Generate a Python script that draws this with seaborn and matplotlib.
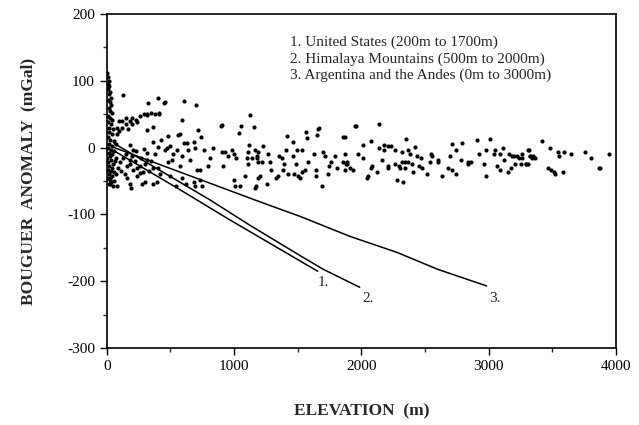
import numpy as np
import pandas as pd
import seaborn as sns
import matplotlib
matplotlib.use("Agg")
import matplotlib.pyplot as plt
from matplotlib.ticker import MultipleLocator

# scatter: elevation (m) and Bouguer anomaly (mGal)
# dense cluster near sea level
elev_low = [5, 10, 15, 8, 20, 12, 25, 18, 30, 10, 22, 35, 15, 28, 40, 12, 25, 45, 8, 32,
            20, 50, 15, 38, 10, 28, 55, 18, 40, 8, 30, 60, 15, 45, 25, 5, 35, 65, 12, 50,
            20, 40, 8, 30, 55, 18, 42, 10, 28, 60, 35, 15, 48, 25, 70, 75, 70, 80, 85, 24]
anom_low = [112, 105, 100, 95, 92, 88, 84, 80, 75, 72, 68, 64, 60, 55, 52, 48, 45, 42, 38, 35,
            30, 28, 24, 20, 16, 12, 10, 6, 3, 0, -3, -5, -8, -10, -13, -16, -18, -20, -22, -25,
            -27, -30, -33, -35, -37, -40, -43, -46, -48, -50, -52, -55, -57, -45, -40, -15, 5, 30, -30, -54]

# arm rising from the origin and scattered points up to ~1200 m
elev_mid = [80, 100, 120, 150, 180, 200, 230, 260, 290, 320, 350, 380, 410, 150, 120, 200, 170, 100, 240,
            126, 322, 401, 448, 314, 408, 314, 361, 361, 424, 401, 471, 181, 204,
            102, 157, 204, 259, 181, 314, 361, 283, 236, 79, 181, 188, 275, 298, 361, 393,
            150, 180, 220, 240, 270, 300, 330, 350, 380, 400, 420, 200, 260, 230, 290, 320, 140, 160, 110, 130,
            456, 605, 699, 589, 715, 558, 738, 903, 1053, 1123, 1155, 1037,
            495, 605, 628, 683, 691, 636, 550, 456, 762, 833, 903, 927, 982, 998, 1013, 950,
            1115, 1108, 1163, 1139, 1178, 1186, 1100, 518, 511, 589, 652, 479, 573, 809, 793, 911, 1108,
            707, 731, 495, 589, 621, 683, 691, 746, 731, 542, 998, 1005, 1045, 1084, 1170, 479, 573, 895]
anom_mid = [20, 25, 30, 35, 40, 45, 42, 48, 50, 50, 52, 50, 51, 45, 40, 35, 28, 40, 38,
            79, 67, 75, 67, 49, 52, 27, 31, 9, 12, 1, 0, 4, -3,
            -22, -28, -33, -28, -18, -18, -30, -37, -43, -58, -55, -60, -55, -52, -54, -51,
            -10, -25, -20, -30, -15, -25, -35, -20, -10, -30, -40, -12, -38, -5, -2, -8, -40, -45, -35, -15,
            69, 70, 64, 42, 27, 19, 16, 34, 33, 49, 31, 22,
            3, 7, 7, 9, 0, -3, -4, -4, -4, 0, -6, -7, -4, -9, -16, -13,
            4, -6, -4, -16, -16, -21, -16, -10, -18, -13, -19, -21, -27, -16, -28, -27, -25,
            -34, -33, -43, -46, -54, -52, -57, -58, -48, -58, -48, -57, -58, -43, -58, 18, 21, 33]

# 1200 m to 4000 m
elev_high = [1414, 1461, 1563, 1571, 1650, 1665, 1854, 1225, 1186, 1178, 1218, 1265, 1280, 1351, 1375, 1406,
             1390, 1382, 1461, 1492, 1532, 1485, 1469, 1500, 1516, 1532, 1555, 1579, 1626, 1697, 1712, 1642,
             1642, 1689, 1744, 1760, 1791, 1736, 1807, 1854, 1877, 1870, 1288, 1327, 1186, 1202, 1257, 1163,
             1343, 1422, 1657,
             1956, 2137, 1870, 2074, 2011, 2176, 2207, 2231, 2349, 2419, 2137, 2176, 2262, 2317, 2364, 2380,
             1972, 1870, 1885, 1885, 2011, 2160, 2207, 2207, 2262, 2294, 2317, 2341, 2364, 2396, 2301, 2341,
             2435, 2466, 2451, 2474, 2545, 2553, 2600, 2537, 2404, 2514, 1909, 1932, 2082, 2074, 2121, 2050,
             2042, 2278, 2325, 1948,
             2710, 2789, 2906, 3008, 2741, 2600, 2694, 2781, 2836, 2859, 2836, 2922, 2977, 3048, 3040, 3087,
             3111, 3118, 3158, 3181, 3197, 3220, 3236, 3260, 3260, 3307, 3323, 3205, 3252, 3291, 2961, 3063,
             3174, 3150, 3087, 2679, 2710, 2741, 2631, 2977,
             3417, 3480, 3315, 3543, 3550, 3590, 3645, 3755, 3802, 3943, 3323, 3346, 3362, 3338, 3307, 3291,
             3464, 3488, 3511, 3519, 3582, 3865, 3873]
anom_high = [18, 9, 24, 15, 19, 30, 16, 3, -6, -13, -21, -9, -21, -13, -16, -4,
             -25, -33, -13, -4, -3, -25, -39, -43, -46, -37, -33, -21, -9, -7, -13, -33,
             -43, -57, -28, -21, -13, -40, -31, -21, -25, -33, -34, -45, -46, -43, -55, -60,
             -43, -40, 28,
             33, 36, 16, 10, 4, 4, 3, 3, 13, 1, -1, -3, -3, -7, -4, -9,
             -9, -10, -21, -25, -16, -18, -27, -30, -24, -27, -22, -22, -21, -24, -30, -30,
             -12, -16, -27, -30, -9, -12, -21, -22, -36, -40, -31, -34, -27, -31, -36, -43,
             -46, -48, -51, 33,
             6, 7, 12, 13, -3, -19, -13, -19, -22, -21, -25, -9, -4, -4, -10, -9,
             -1, -19, -10, -12, -13, -13, -15, -16, -10, -4, -13, -24, -25, -25, -24, -27,
             -31, -37, -34, -31, -33, -39, -43, -43,
             10, -1, -4, -7, -12, -7, -9, -7, -16, -10, -13, -13, -15, -16, -24, -25,
             -31, -34, -37, -39, -36, -31, -30]

# regression lines
us_elev = [60, 550, 966, 1657]
us_anom = [-5, -60, -108, -185]
him_elev = [60, 338, 809, 1123, 1540, 1700, 1987]
him_anom = [6, -25, -78, -116, -164, -182, -209]
and_elev = [60, 1202, 1520, 1913, 2283, 2598, 2984]
and_anom = [0, -81, -103, -133, -157, -182, -207]

line_labels = ["1.", "2.", "3."]
legend_lines = ["1. United States (200m to 1700m)",
                "2. Himalaya Mountains (500m to 2000m)",
                "3. Argentina and the Andes (0m to 3000m)"]

pts = pd.DataFrame({"elev": elev_low + elev_mid + elev_high,
                    "anom": anom_low + anom_mid + anom_high})

sns.set_style("ticks")
plt.rcParams["font.family"] = ["Liberation Serif", "DejaVu Serif"]
plt.rcParams["axes.unicode_minus"] = False

fig = plt.figure(figsize=(6.39, 4.25), dpi=100)
ax = fig.add_axes([0.167, 0.181, 0.797, 0.786])

sns.scatterplot(data=pts, x="elev", y="anom", ax=ax, color="black", s=9,
                linewidth=0, legend=False)
for xs, ys in [(us_elev, us_anom), (him_elev, him_anom), (and_elev, and_anom)]:
    sns.lineplot(x=xs, y=ys, ax=ax, color="black", lw=1.1, sort=False, estimator=None)

# line end labels
ax.text(1700, -202, line_labels[0], fontsize=11, ha="center", va="center")
ax.text(2050, -226, line_labels[1], fontsize=11, ha="center", va="center")
ax.text(3050, -226, line_labels[2], fontsize=11, ha="center", va="center")

for i, s in enumerate(legend_lines):
    ax.text(1437, 157 - i * 24.5, s, fontsize=11, ha="left", va="center")

ax.set_xlim(0, 4000)
ax.set_ylim(-300, 200)
ax.xaxis.set_major_locator(MultipleLocator(1000))
ax.xaxis.set_minor_locator(MultipleLocator(500))
ax.yaxis.set_major_locator(MultipleLocator(100))
ax.yaxis.set_minor_locator(MultipleLocator(50))
ax.tick_params(which="major", direction="out", length=5, width=1.0, labelsize=11, colors="black")
ax.tick_params(which="minor", direction="out", length=3, width=1.0)
ax.tick_params(top=False, right=False)
for sp in ax.spines.values():
    sp.set_visible(True)
    sp.set_color("black")
    sp.set_linewidth(1.2)

ax.set_xlabel("ELEVATION  (m)", fontsize=12.5, fontweight="bold", labelpad=22)
ax.set_ylabel("BOUGUER  ANOMALY  (mGal)", fontsize=12.5, fontweight="bold", labelpad=22)

fig.savefig("out.png", dpi=100)
